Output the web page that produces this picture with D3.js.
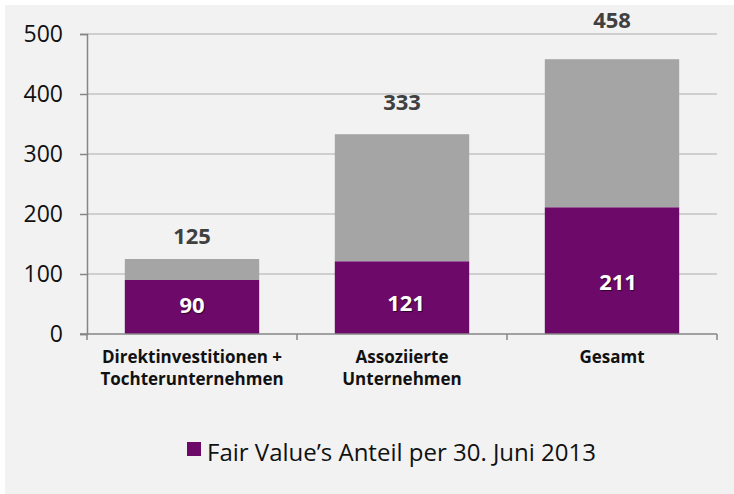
<!DOCTYPE html>
<html>
<head>
<meta charset="utf-8">
<script src="https://cdn.jsdelivr.net/npm/d3@7"></script>
<style>
  body { margin: 0; background: #fff; }
  text { font-family: "Open Sans", "Noto Sans", sans-serif; }
</style>
</head>
<body>
<svg id="chart" width="734" height="494"></svg>
<script>
// data
var categories = [["Direktinvestitionen +", "Tochterunternehmen"], ["Assoziierte", "Unternehmen"], ["Gesamt"]]
var fairValue = [90, 121, 211]
var totals = [125, 333, 458]
var yTicks = [0, 100, 200, 300, 400, 500]
var legendLabel = "Fair Value\u2019s Anteil per 30. Juni 2013"

// label nudges (the original labels were placed by hand)
var totalGap = [15, 24, 31]
var innerShift = [[0, -2], [4, 5], [6, 11]]

var svg = d3.select("#chart")
var purple = "#6d0a69", grey = "#a5a5a5"

svg.append("rect").attr("x", 5).attr("y", 5).attr("width", 729).attr("height", 489).attr("fill", "#f2f2f2")

var x = d3.scaleBand().domain(d3.range(categories.length)).range([87, 717]).paddingInner(0.36).paddingOuter(0.18)
var xOuter = d3.scaleBand().domain(d3.range(categories.length)).range([87, 717])
var y = d3.scaleLinear().domain([0, 500]).range([334, 34])

// gridlines
svg.append("g").selectAll("line").data(yTicks.slice(1)).enter().append("line")
    .attr("x1", 87).attr("x2", 717)
    .attr("y1", d => y(d)).attr("y2", d => y(d))
    .attr("stroke", "#c3c3c3").attr("stroke-width", 1.3)

// stacked bars: purple part + grey remainder
svg.append("g").selectAll("rect").data(totals).enter().append("rect")
    .attr("x", (d, i) => x(i)).attr("width", x.bandwidth())
    .attr("y", d => y(d)).attr("height", (d, i) => y(fairValue[i]) - y(d))
    .attr("fill", grey)
svg.append("g").selectAll("rect").data(fairValue).enter().append("rect")
    .attr("x", (d, i) => x(i)).attr("width", x.bandwidth())
    .attr("y", d => y(d)).attr("height", d => y(0) - y(d))
    .attr("fill", purple)

// axes
var yAxis = d3.axisLeft(y).tickValues(yTicks).tickSize(7).tickPadding(17)
var gy = svg.append("g").attr("transform", "translate(87,0)").call(yAxis)
gy.select(".domain").attr("stroke", "#868686").attr("stroke-width", 1.5)
gy.selectAll(".tick line").attr("stroke", "#868686").attr("stroke-width", 1.5)
gy.selectAll(".tick text").attr("font-size", 23).attr("fill", "#111")
    .style("font-family", "\"Open Sans\", sans-serif")

var gx = svg.append("g")
gx.append("line").attr("x1", 80).attr("x2", 717).attr("y1", y(0)).attr("y2", y(0))
    .attr("stroke", "#868686").attr("stroke-width", 1.5)
gx.selectAll(".tk").data(d3.range(categories.length + 1)).enter().append("line")
    .attr("x1", d => 87 + d * xOuter.step()).attr("x2", d => 87 + d * xOuter.step())
    .attr("y1", y(0)).attr("y2", y(0) + 6)
    .attr("stroke", "#868686").attr("stroke-width", 1.5)

// category labels
var cat = gx.selectAll(".cat").data(categories).enter().append("text")
    .attr("text-anchor", "middle").attr("font-size", 17).attr("font-weight", "bold").attr("fill", "#111")
    .attr("transform", (d, i) => "translate(" + (xOuter(i) + xOuter.bandwidth() / 2) + ",363)")
cat.selectAll("tspan").data(d => d).enter().append("tspan")
    .attr("x", 0).attr("dy", (d, i) => i === 0 ? 0 : 22).text(d => d)

// value labels
svg.append("g").selectAll("text").data(totals).enter().append("text")
    .attr("x", (d, i) => x(i) + x.bandwidth() / 2).attr("y", (d, i) => y(d) - totalGap[i])
    .attr("text-anchor", "middle").attr("font-size", 22).attr("font-weight", "bold").attr("fill", "#404040")
    .text(d => d)
svg.append("g").selectAll("text").data(fairValue).enter().append("text")
    .attr("x", (d, i) => x(i) + x.bandwidth() / 2 + innerShift[i][0])
    .attr("y", (d, i) => (y(d) + y(0)) / 2 + 8 + innerShift[i][1])
    .attr("text-anchor", "middle").attr("font-size", 22).attr("font-weight", "bold").attr("fill", "#fff")
    .style("text-shadow", "1px 1px 1px rgba(0,0,0,0.6)")
    .text(d => d)

// legend
var lg = svg.append("g").attr("transform", "translate(187,442)")
lg.append("rect").attr("width", 14).attr("height", 14).attr("fill", purple)
lg.append("text").attr("x", 20).attr("y", 19).attr("font-size", 24).attr("fill", "#111").text(legendLabel)
</script>
</body>
</html>
